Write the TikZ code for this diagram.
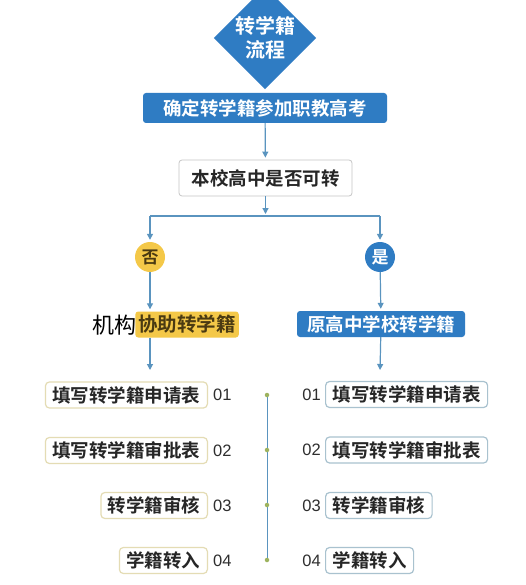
\documentclass[tikz,border=0pt]{standalone}
\usepackage{fontspec}
\setmainfont{Noto Sans CJK SC}[BoldFont={Noto Sans CJK SC Bold}]
\newfontfamily\numfont{Liberation Sans}
\newfontfamily\plainfont{Noto Sans CJK SC}
\usetikzlibrary{shapes.geometric,arrows.meta}
\definecolor{mblue}{HTML}{2F7CC3}
\definecolor{lblue}{HTML}{5A94BF}
\definecolor{myel}{HTML}{F4C848}
\definecolor{ytext}{HTML}{4A3A12}
\definecolor{beige}{HTML}{E4DCB4}
\definecolor{bgray}{HTML}{A9C2CF}
\definecolor{dotc}{HTML}{9DB35E}
\definecolor{ntext}{HTML}{2E2E2E}
\begin{document}
\begin{tikzpicture}[x=1pt,y=-1pt,
  cjk/.style={font=\bfseries\fontsize{18.5}{20}\selectfont},
  bluebox/.style={cjk,fill=mblue,text=white,rounded corners=3pt,inner sep=0pt},
  whitebox/.style={cjk,draw=gray!45,line width=0.8pt,fill=white,text=black!85,rounded corners=3pt,inner sep=0pt},
  leftbox/.style={cjk,draw=beige,line width=1.2pt,fill=white,text=black!85,rounded corners=4pt,inner xsep=7pt,inner ysep=0pt,minimum height=26pt},
  rightbox/.style={cjk,draw=bgray,line width=1.2pt,fill=white,text=black!85,rounded corners=4pt,inner xsep=7pt,inner ysep=0pt,minimum height=26pt},
  numlab/.style={font=\numfont\fontsize{16.5}{17}\selectfont,text=ntext,inner sep=0pt},
  flow/.style={lblue,line width=1.2pt},
  arr/.style={flow,-{Triangle[length=6pt,width=6pt]},shorten >=2pt},
  dotn/.style={circle,fill=dotc,inner sep=0pt,minimum size=4.5pt}
]
\useasboundingbox[fill=white] (0,0) rectangle (525,585);

% diamond
\node[diamond,fill=mblue,text=white,inner sep=0pt,minimum width=96pt,minimum height=84pt,
  font=\bfseries\fontsize{20}{23.5}\selectfont,align=center] (d) at (265,38) {转学籍\\流程};

\node[bluebox,minimum width=244pt,minimum height=30pt] (b1) at (265,108) {确定转学籍参加职教高考};
\node[whitebox,minimum width=173pt,minimum height=36pt] (b2) at (265.5,178) {本校高中是否可转};

\coordinate (j) at (265.5,216);
\coordinate (jl) at (150,216);
\coordinate (jr) at (380,216);

\node[circle,fill=myel,text=ytext,minimum size=30pt,inner sep=0pt,font=\bfseries\fontsize{17}{18}\selectfont] (no) at (150,257) {否};
\node[circle,fill=mblue,text=white,minimum size=30pt,inner sep=0pt,font=\bfseries\fontsize{17}{18}\selectfont] (yes) at (380,257) {是};

\node[fill=myel,text=ytext,rounded corners=3pt,inner xsep=3pt,inner ysep=0pt,minimum height=26pt,
  font=\bfseries\fontsize{19.5}{20}\selectfont,anchor=east] (yb) at (239,324.5) {协助转学籍};
\node[font=\plainfont\fontsize{22}{24}\selectfont,text=black,inner sep=0pt,anchor=east] (jg) at (137,325.5) {机构};

\node[bluebox,minimum width=168pt,minimum height=26pt] (bb) at (381,324) {原高中学校转学籍};

\coordinate (le) at (150,372);
\coordinate (re) at (380,372);

% draw connectors
\draw[arr] (b1) -- (b2);
\draw[arr] (b2) -- (j);
\draw[flow] (jl) -- (jr);
\draw[arr] (jl) -- (no);
\draw[arr] (jr) -- (yes);
\draw[arr] (no.south) -- (no.south |- yb.north);
\draw[arr] (yes) -- (bb);
\draw[arr] (le |- yb.south) -- (le);
\draw[arr] (bb) -- (re);

% left list
\node[leftbox,anchor=east] (l1) at (208,395) {填写转学籍申请表};
\node[leftbox,anchor=east] (l2) at (208,450.5) {填写转学籍审批表};
\node[leftbox,anchor=east] (l3) at (208,505.5) {转学籍审核};
\node[leftbox,anchor=east] (l4) at (208,560.5) {学籍转入};
\node[numlab,anchor=west] (ln1) at (213,395) {01};
\node[numlab,anchor=west] (ln2) at (213,450.5) {02};
\node[numlab,anchor=west] (ln3) at (213,505.5) {03};
\node[numlab,anchor=west] (ln4) at (213,560.5) {04};

% right list
\node[rightbox,anchor=west] (r1) at (325,394.5) {填写转学籍申请表};
\node[rightbox,anchor=west] (r2) at (325,450) {填写转学籍审批表};
\node[rightbox,anchor=west] (r3) at (325,505.5) {转学籍审核};
\node[rightbox,anchor=west] (r4) at (325,560.5) {学籍转入};
\node[numlab,anchor=east] (rn1) at (321,394.5) {01};
\node[numlab,anchor=east] (rn2) at (321,450) {02};
\node[numlab,anchor=east] (rn3) at (321,505.5) {03};
\node[numlab,anchor=east] (rn4) at (321,560.5) {04};

% middle timeline
\coordinate (t1) at (267,393);
\coordinate (t4) at (267,561);
\draw[flow,line width=1pt] (t1) -- (t4);
\node[dotn] (m1) at (267,395) {};
\node[dotn] (m2) at (267,450) {};
\node[dotn] (m3) at (267,505) {};
\node[dotn] (m4) at (267,560) {};
\end{tikzpicture}
\end{document}
